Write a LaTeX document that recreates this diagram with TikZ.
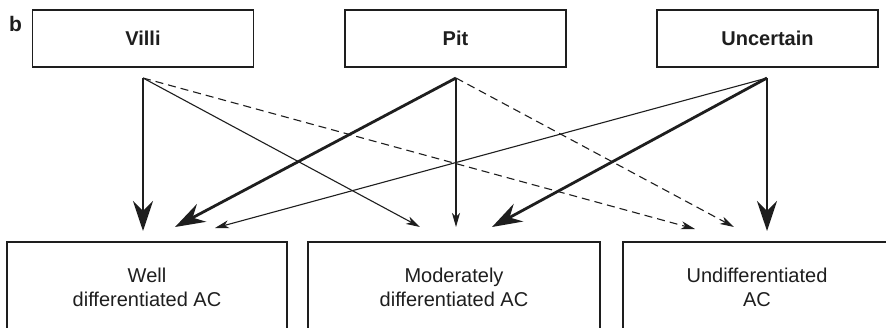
\documentclass[tikz,border=0pt]{standalone}
\usepackage{fontspec}
\setmainfont{Liberation Sans}
\usetikzlibrary{arrows.meta}
\definecolor{ink}{HTML}{1E1E1E}
\newcommand{\twolines}[2]{\raisebox{4pt}{\begin{tabular}{@{}c@{}}#1\\#2\end{tabular}}}
\tikzset{
  box/.style={draw=ink, line width=1.3pt, rectangle, inner sep=0pt, text=ink,
    align=center, font=\fontsize{20}{24}\selectfont},
  topbox/.style={box, minimum width=221pt, minimum height=57pt, font=\fontsize{20}{24}\selectfont\bfseries},
  bottombox/.style={box, minimum height=96pt},
  heavy/.style={draw=ink, line width=2.8pt, -{Stealth[length=30pt, width=20pt, inset=10pt]}},
  thin/.style={draw=ink, line width=1.1pt, -{Stealth[length=14pt, width=8pt, inset=4pt]}},
  weak/.style={thin, dash pattern=on 8pt off 5pt},
}
\begin{document}
\begin{tikzpicture}[x=1pt, y=-1pt]
  \clip (0,0) rectangle (886,327);
  \fill[white] (0,0) rectangle (886,327);

  % panel letter
  \node[text=ink, font=\fontsize{21}{24}\selectfont\bfseries] (panel) at (15.5,24) {b};

  % growth patterns
  \node[topbox] (villi) at (143,38.5) {Villi};
  \node[topbox] (pit) at (455.5,38.5) {Pit};
  \node[topbox] (uncertain) at (767.5,38.5) {Uncertain};

  % differentiation grades (open at the lower edge)
  \node[bottombox, minimum width=280pt] (well) at (147,290) {\twolines{Well}{differentiated AC}};
  \node[bottombox, minimum width=292pt] (moderate) at (454,290) {\twolines{Moderately}{differentiated AC}};
  \node[bottombox, minimum width=268pt] (undiff) at (757,290) {\twolines{Undifferentiated}{AC}};

  % start points below each pattern
  \coordinate (vs) at (143,78);
  \coordinate (ps) at (456,78);
  \coordinate (us) at (767,78);

  % arrow ends above each grade
  \coordinate (wv) at (143,231);
  \coordinate (wp) at (175,227);
  \coordinate (wu) at (215,228);
  \coordinate (mv) at (420,227);
  \coordinate (mp) at (456,227);
  \coordinate (mu) at (492,227);
  \coordinate (uv) at (695,229);
  \coordinate (up) at (734,227);
  \coordinate (uu) at (767,231);

  % connectors
  \draw[thin] (vs) -- (mv);
  \draw[weak] (vs) -- (uv);
  \draw[weak] (ps) -- (up);
  \draw[thin] (ps) -- (mp);
  \draw[thin] (us) -- (wu);
  \draw[heavy] (vs) -- (wv);
  \draw[heavy] (ps) -- (wp);
  \draw[heavy] (us) -- (mu);
  \draw[heavy] (us) -- (uu);
\end{tikzpicture}
\end{document}
